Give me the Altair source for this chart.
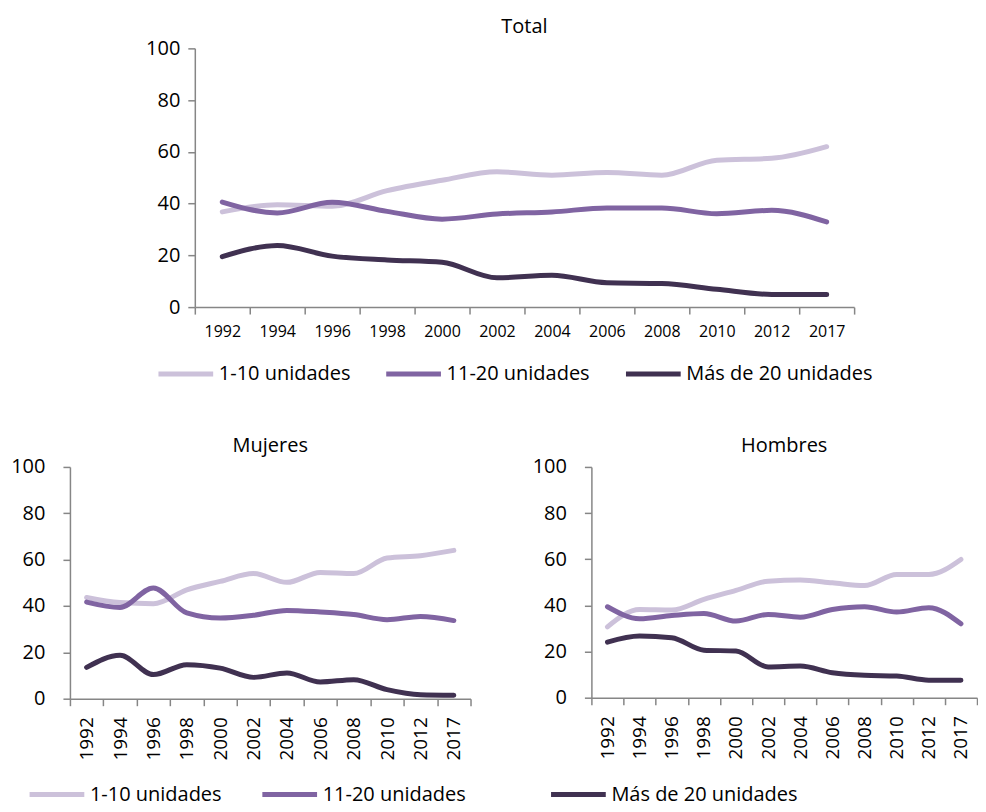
import altair as alt
import pandas as pd

years = ["1992", "1994", "1996", "1998", "2000", "2002", "2004", "2006", "2008", "2010", "2012", "2017"]
series = ["1-10 unidades", "11-20 unidades", "Más de 20 unidades"]
colors = ["#ccc1da", "#8064a2", "#403151"]

total_1_10 = [36.8, 39.6, 39.0, 45.0, 49.0, 52.3, 51.0, 52.0, 51.0, 56.8, 57.5, 62.0]
total_11_20 = [40.6, 36.4, 40.5, 37.0, 34.0, 36.0, 36.8, 38.3, 38.3, 36.1, 37.4, 32.9]
total_mas_20 = [19.5, 23.8, 19.7, 18.2, 17.3, 11.3, 12.3, 9.4, 9.1, 6.9, 4.9, 4.9]

mujeres_1_10 = [43.7, 41.5, 41.0, 47.0, 50.6, 54.0, 50.2, 54.5, 54.0, 60.7, 61.7, 64.0]
mujeres_11_20 = [41.7, 39.4, 47.8, 37.0, 34.8, 36.0, 38.1, 37.4, 36.3, 34.1, 35.5, 33.7]
mujeres_mas_20 = [13.5, 18.7, 10.4, 14.7, 13.2, 9.2, 11.1, 7.2, 8.2, 3.9, 1.7, 1.5]

hombres_1_10 = [30.7, 38.2, 38.0, 42.6, 46.5, 50.5, 51.0, 49.8, 48.6, 53.4, 53.4, 59.9]
hombres_11_20 = [39.4, 34.2, 35.6, 36.5, 33.2, 36.1, 34.9, 38.2, 39.4, 37.1, 39.0, 32.0]
hombres_mas_20 = [24.1, 26.7, 26.0, 20.6, 20.2, 13.3, 13.7, 10.8, 9.7, 9.4, 7.6, 7.6]

FONT = "Open Sans"


def make_df(s1, s2, s3):
    rows = []
    for name, vals in zip(series, [s1, s2, s3]):
        for y, v in zip(years, vals):
            rows.append({"year": y, "series": name, "value": v})
    return pd.DataFrame(rows)


def panel(df, title, w, h, rotated, ypad, legend_values, lx, ly, colpad):
    if rotated:
        xaxis = alt.Axis(title=None, tickBand="extent", labelAngle=270, labelAlign="right",
                         labelBaseline="middle", labelFontSize=19, labelPadding=11,
                         tickSize=7, labelFont=FONT)
    else:
        xaxis = alt.Axis(title=None, tickBand="extent", labelAngle=0, labelFontSize=16,
                         labelPadding=9, tickSize=7, labelFont=FONT)
    return alt.Chart(df).mark_line(interpolate="monotone", strokeWidth=5, strokeCap="round").encode(
        x=alt.X("year:N", sort=years, bandPosition=0.5,
                scale=alt.Scale(type="band", paddingInner=0, paddingOuter=0),
                axis=xaxis),
        y=alt.Y("value:Q", scale=alt.Scale(domain=[0, 100]),
                axis=alt.Axis(title=None, values=[0, 20, 40, 60, 80, 100], labelFontSize=20,
                              tickSize=7, labelPadding=ypad, labelFont=FONT)),
        color=alt.Color("series:N", sort=series,
                        scale=alt.Scale(domain=series, range=colors),
                        legend=alt.Legend(values=legend_values, orient="none", legendX=lx, legendY=ly,
                                          direction="horizontal", title=None, symbolType="stroke",
                                          symbolSize=3000, symbolStrokeWidth=5, labelFontSize=20,
                                          labelFont=FONT, labelOffset=3, columnPadding=colpad,
                                          labelLimit=300)),
    ).properties(width=w, height=h,
                 title=alt.TitleParams(title, font=FONT, fontSize=20, fontWeight="normal",
                                       anchor="middle", offset=1))


total = panel(make_df(total_1_10, total_11_20, total_mas_20), "Total", 660, 259, False, 8,
              series, -39, 296, 25)
mujeres = panel(make_df(mujeres_1_10, mujeres_11_20, mujeres_mas_20), "Mujeres", 401, 232, True, 18,
                series[:2], -43, 298, 30)
hombres = panel(make_df(hombres_1_10, hombres_11_20, hombres_mas_20), "Hombres", 386, 231, True, 18,
                series[2:], -43, 298, 30)

# invisible spacer used only to shift the top panel to the right
spacer = alt.Chart(pd.DataFrame({"v": [0]})).mark_point(opacity=0).properties(width=75, height=10)

top = alt.hconcat(spacer, total, spacing=0).resolve_legend(color="independent")
bottom = alt.hconcat(mujeres, hombres, spacing=60).resolve_legend(color="independent")

chart = alt.vconcat(top, bottom, spacing=52).resolve_legend(
    color="independent"
).properties(
    padding={"left": 2, "top": 9, "right": 0, "bottom": 0}
).configure_view(stroke=None).configure_axis(
    domainColor="#868686", tickColor="#868686", grid=False, labelColor="#000000",
    domainWidth=1.5, tickWidth=1.5
)

chart.save("out.html", embed_options={"renderer": "svg", "actions": False})
